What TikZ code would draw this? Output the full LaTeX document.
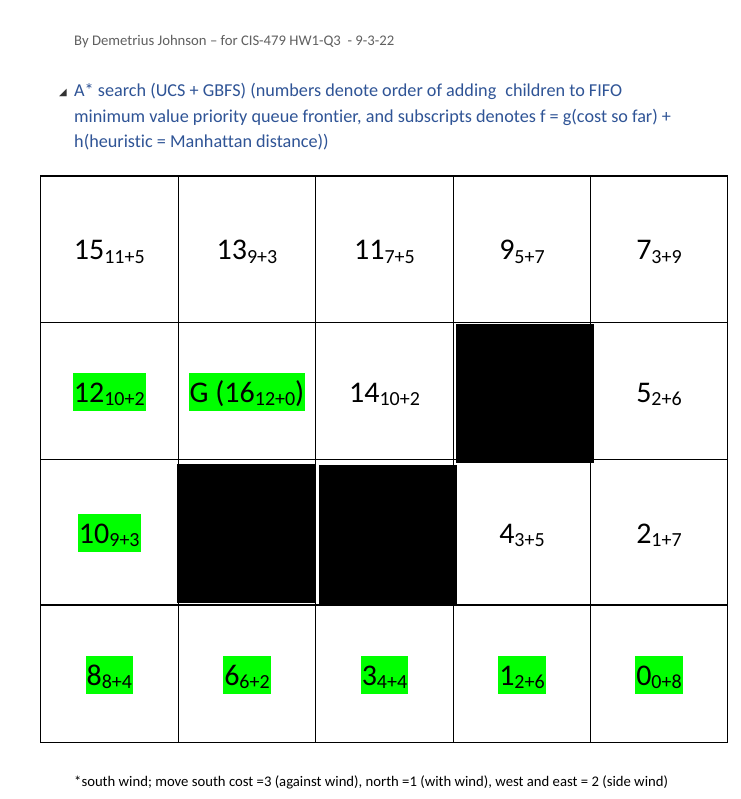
\documentclass[tikz,border=0pt]{standalone}
\usepackage{fontspec}
\setmainfont[Ligatures={TeX,NoCommon}]{Carlito}
\newfontfamily\symfont{DejaVu Sans}
\usepackage{xcolor}
\definecolor{hlgreen}{HTML}{00FF00}
\definecolor{headblue}{HTML}{2F5496}
\definecolor{bygray}{HTML}{606060}
\newcommand{\fval}[2]{#1\raisebox{-3pt}{\fontsize{20}{24}\selectfont #2}}
\tikzset{
    cell/.style={anchor=base, font=\fontsize{30}{36}\selectfont, inner xsep=1pt, inner ysep=0pt, text height=29pt, text depth=9pt},
    hl/.style={fill=hlgreen},
    wall/.style={fill=black},
    gridline/.style={line width=1.2pt},
    line/.style={anchor=base west, inner sep=0pt},
    headline/.style={line, text=headblue, font=\fontsize{18.2}{22}\selectfont}
}

\begin{document}
\begin{tikzpicture}[x=1pt, y=-1pt]
    \useasboundingbox[fill=white] (0,0) rectangle (740,799);

    \node[line, text=bygray, font=\fontsize{14.7}{18}\selectfont] (byline) at (74,46) {By Demetrius Johnson – for CIS-479 HW1-Q3 \ - 9-3-22};

    \node[anchor=base east, inner sep=0pt, font=\symfont\fontsize{10}{12}\selectfont, text=black!80] (bullet) at (67,96) {◢};
    \node[headline] (head1) at (74,97) {A* search (UCS + GBFS) (numbers denote order of adding\hspace{9pt}children to FIFO};
    \node[headline] (head2) at (74,122.5) {minimum value priority queue frontier, and subscripts denotes f = g(cost so far) +};
    \node[headline] (head3) at (74,148) {h(heuristic = Manhattan distance))};

    % grid
    \draw[gridline] (40.3,176) rectangle (727.3,742.3);
    \draw[gridline] (178.3,176) -- (178.3,742.3);
    \draw[gridline] (315.7,176) -- (315.7,742.3);
    \draw[gridline] (453.3,176) -- (453.3,742.3);
    \draw[gridline] (590.7,176) -- (590.7,742.3);
    \draw[gridline] (40.3,322.3) -- (727.3,322.3);
    \draw[gridline] (40.3,459.3) -- (727.3,459.3);
    \draw[gridline] (40.3,605) -- (727.3,605);

    % walls
    \fill[wall] (456,324) rectangle (594,462.7);
    \fill[wall] (176.7,464.3) rectangle (315.7,602.7);
    \fill[wall] (319.3,465) rectangle (456.7,604);

    % row 1
    \node[cell] (c11) at (109.3,260) {\fval{15}{11+5}};
    \node[cell] (c12) at (247,260) {\fval{13}{9+3}};
    \node[cell] (c13) at (384.5,260) {\fval{11}{7+5}};
    \node[cell] (c14) at (522,260) {\fval{9}{5+7}};
    \node[cell] (c15) at (659,260) {\fval{7}{3+9}};
    % row 2
    \node[cell, hl] (c21) at (109.3,402) {\fval{12}{10+2}};
    \node[cell, hl] (c22) at (247,402) {G (\fval{16}{12+0})};
    \node[cell] (c23) at (384.5,402) {\fval{14}{10+2}};
    \node[cell] (c25) at (659,402) {\fval{5}{2+6}};
    % row 3
    \node[cell, hl] (c31) at (109.3,543) {\fval{10}{9+3}};
    \node[cell] (c34) at (522,543) {\fval{4}{3+5}};
    \node[cell] (c35) at (659,543) {\fval{2}{1+7}};
    % row 4
    \node[cell, hl] (c41) at (109.3,685) {\fval{8}{8+4}};
    \node[cell, hl] (c42) at (247,685) {\fval{6}{6+2}};
    \node[cell, hl] (c43) at (384.5,685) {\fval{3}{4+4}};
    \node[cell, hl] (c44) at (522,685) {\fval{1}{2+6}};
    \node[cell, hl] (c45) at (659,685) {\fval{0}{0+8}};

    \node[line, font=\fontsize{14.7}{17}\selectfont] (note) at (74,786) {*south wind; move south cost =3 (against wind), north =1 (with wind), west and east = 2 (side wind)};
\end{tikzpicture}
\end{document}
